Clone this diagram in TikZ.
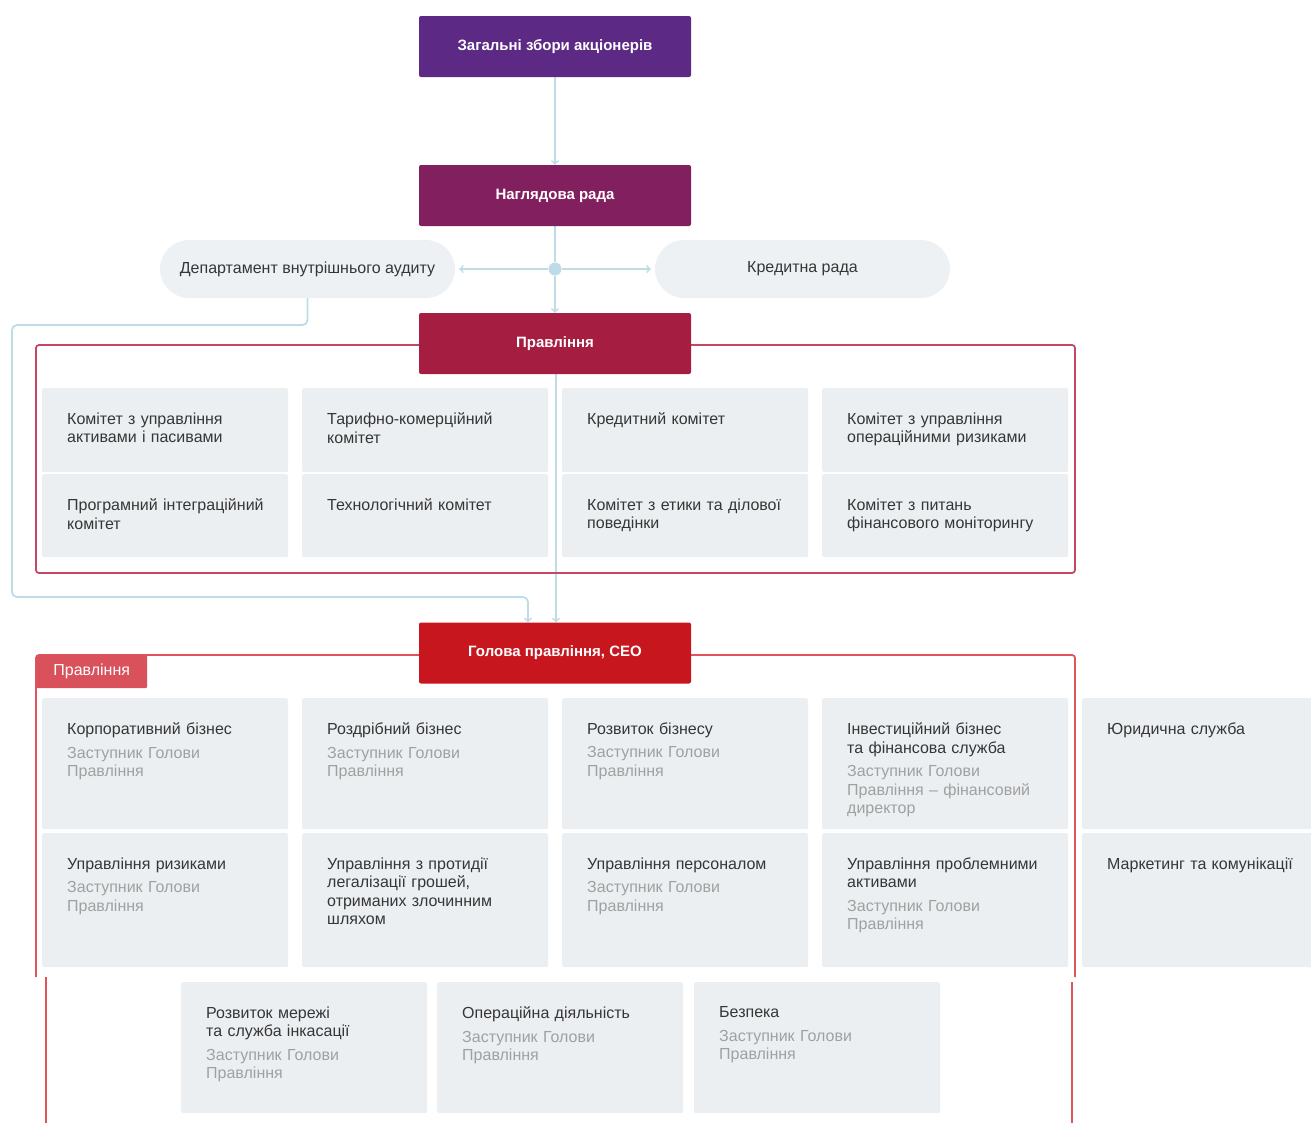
\documentclass[tikz,border=0pt]{standalone}
\usepackage{fontspec}
\setmainfont{Liberation Sans}
\usepackage{xcolor}
\usetikzlibrary{positioning,arrows,shapes,fit,backgrounds}

\definecolor{gsmpurple}{HTML}{5C2A85}
\definecolor{suppurple}{HTML}{821F5E}
\definecolor{boardred}{HTML}{A61D42}
\definecolor{ceored}{HTML}{C8161F}
\definecolor{tabred}{HTML}{D9525B}
\definecolor{frameone}{HTML}{C44866}
\definecolor{frametwo}{HTML}{E2545C}
\definecolor{cellgray}{HTML}{ECEFF1}
\definecolor{pillgray}{HTML}{EDF1F3}
\definecolor{linkblue}{HTML}{BEDCE6}
\definecolor{txtdark}{HTML}{363636}
\definecolor{txtgray}{HTML}{A0A0A0}

\newcommand{\deputy}[1]{\\[5pt]\color{txtgray}#1}
\newcommand{\unitcell}[5]{%
  \node[cell, minimum height=#4] (#1) at (#2,#3) {};
  \node[celltext] at ([shift={(25,24.5)}]#1.north west) {#5};}

\begin{document}
\begin{tikzpicture}
[x=1pt, y=-1pt, >=to,
    font=\fontsize{16}{18.5}\selectfont,
    head/.style={fill=#1, text=white, font=\fontsize{15}{18}\selectfont\bfseries,
      minimum width=272pt, minimum height=61pt, rounded corners=2pt, inner sep=0pt},
    pill/.style={fill=pillgray, text=txtdark, rounded corners=29pt,
      minimum width=295pt, minimum height=58pt, inner sep=0pt},
    cell/.style={fill=cellgray, rounded corners=1.5pt, anchor=north west,
      minimum width=246pt, inner sep=0pt},
    celltext/.style={anchor=north west, inner sep=0pt, text width=224pt, align=left, text=txtdark},
    link/.style={draw=linkblue, line width=1.8pt},
    hub/.style={circle, fill=linkblue, minimum size=13pt, inner sep=0pt},
    boardframe/.style={draw=#1, line width=1.8pt, rounded corners=3pt},
    tab/.style={fill=tabred, text=white, anchor=north west, minimum width=111pt,
      minimum height=33pt, inner sep=0pt, rounded corners=2pt}
    ]
    \useasboundingbox (0,0) rectangle (1311,1122);
    \clip (0,0) rectangle (1311,1122);

    \node[head=gsmpurple] (gsm) at (555,46.5) {Загальні збори акціонерів};
    \node[head=suppurple] (sup) at (555,195.5) {Наглядова рада};
    \node[pill] (audit) at (307.5,269) {Департамент внутрішнього аудиту};
    \node[pill] (credit) at (802.5,269) {Кредитна рада};
    \node[hub] (hub) at (555,269) {};

    \draw[boardframe=frameone] (36,345) rectangle (1075,573);
    \node[head=boardred] (board) at (555,343.5) {Правління};

    \unitcell{alco}{42}{388}{84pt}{Комітет з управління\\активами і пасивами}
    \unitcell{tariff}{302}{388}{84pt}{Тарифно-комерційний\\комітет}
    \unitcell{credcom}{562}{388}{84pt}{Кредитний комітет}
    \unitcell{oprisk}{822}{388}{84pt}{Комітет з управління\\операційними ризиками}
    \unitcell{progint}{42}{474}{83pt}{Програмний інтеграційний\\комітет}
    \unitcell{techcom}{302}{474}{83pt}{Технологічний комітет}
    \unitcell{ethics}{562}{474}{83pt}{Комітет з етики та ділової\\поведінки}
    \unitcell{finmon}{822}{474}{83pt}{Комітет з питань\\фінансового моніторингу}

    \draw[boardframe=frametwo] (36,977) -- (36,655) -- (1075,655) -- (1075,977);
    \draw[boardframe=frametwo] (46,977) -- (46,1130);
    \draw[boardframe=frametwo] (1072,982) -- (1072,1130);
    \node[head=ceored] (ceo) at (555,653) {Голова правління, CEO};
    \node[tab] (boardtab) at (36,655) {Правління};

    \unitcell{corp}{42}{698}{131pt}{Корпоративний бізнес\deputy{Заступник Голови\\Правління}}
    \unitcell{retail}{302}{698}{131pt}{Роздрібний бізнес\deputy{Заступник Голови\\Правління}}
    \unitcell{busdev}{562}{698}{131pt}{Розвиток бізнесу\deputy{Заступник Голови\\Правління}}
    \unitcell{invest}{822}{698}{131pt}{Інвестиційний бізнес\\та фінансова служба\deputy{Заступник Голови\\Правління -- фінансовий\\директор}}
    \unitcell{legal}{1082}{698}{131pt}{Юридична служба}
    \unitcell{risk}{42}{833}{134pt}{Управління ризиками\deputy{Заступник Голови\\Правління}}
    \unitcell{aml}{302}{833}{134pt}{Управління з протидії\\легалізації грошей,\\отриманих злочинним\\шляхом}
    \unitcell{hr}{562}{833}{134pt}{Управління персоналом\deputy{Заступник Голови\\Правління}}
    \unitcell{npl}{822}{833}{134pt}{Управління проблемними\\активами\deputy{Заступник Голови\\Правління}}
    \unitcell{marketing}{1082}{833}{134pt}{Маркетинг та комунікації}
    \unitcell{network}{181}{982}{131pt}{Розвиток мережі\\та служба інкасації\deputy{Заступник Голови\\Правління}}
    \unitcell{ops}{437}{982}{131pt}{Операційна діяльність\deputy{Заступник Голови\\Правління}}
    \unitcell{security}{694}{982}{131pt}{Безпека\deputy{Заступник Голови\\Правління}}

    \begin{scope}[on background layer]
    \draw[link,->] (gsm) -- (sup);
    \draw[link] (sup) -- (hub);
    \draw[link,->,shorten >=4pt] (hub) -- (audit);
    \draw[link,->,shorten >=4pt] (hub) -- (credit);
    \draw[link,->] (hub) -- (board);
    \draw[link,->] ([xshift=1pt]board.south) -- ([xshift=1pt]ceo.north);
    \draw[link,->,rounded corners=5pt] (audit.south) |- (12,325) |- (528,597)
      -- ([xshift=-27pt]ceo.north);
    \end{scope}
\end{tikzpicture}
\end{document}
